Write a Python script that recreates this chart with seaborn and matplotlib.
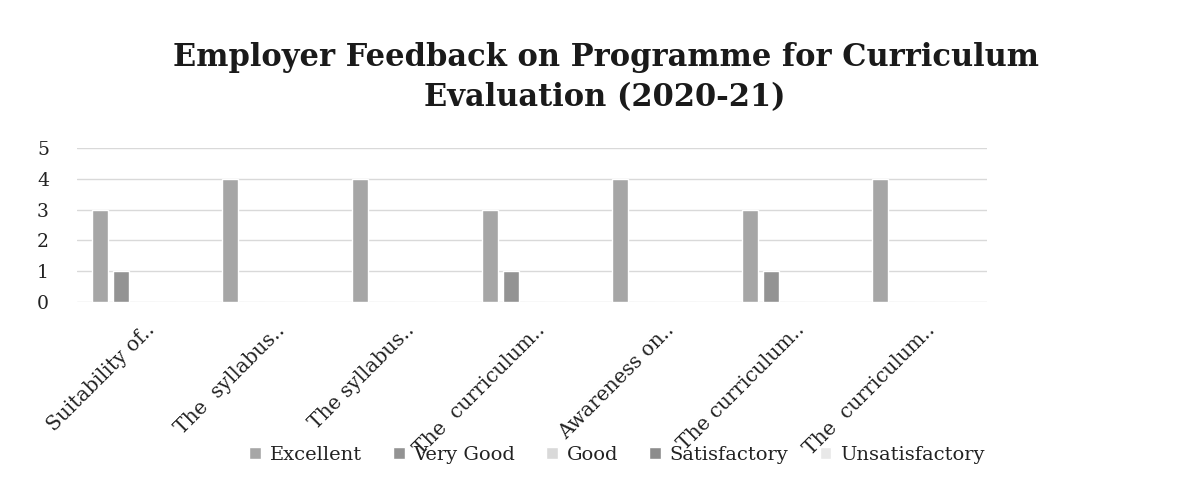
import matplotlib
matplotlib.use("Agg")
import matplotlib.pyplot as plt
from matplotlib.transforms import ScaledTranslation
import seaborn as sns
import pandas as pd

categories = ["Suitability of..", "The  syllabus..", "The syllabus..", "The  curriculum..",
              "Awareness on..", "The curriculum..", "The  curriculum.."]
ratings = ["Excellent", "Very Good", "Good", "Satisfactory", "Unsatisfactory"]
excellent = [3, 4, 4, 3, 4, 3, 4]
very_good = [1, 0, 0, 1, 0, 1, 0]
good = [0, 0, 0, 0, 0, 0, 0]
satisfactory = [0, 0, 0, 0, 0, 0, 0]
unsatisfactory = [0, 0, 0, 0, 0, 0, 0]
yticks = [0, 1, 2, 3, 4, 5]
title_lines = ["Employer Feedback on Programme for Curriculum", "Evaluation (2020-21)"]

series = [excellent, very_good, good, satisfactory, unsatisfactory]
rows = []
for r, vals in zip(ratings, series):
    for i, v in enumerate(vals):
        rows.append({"Pos": i, "Rating": r, "Score": v})
df = pd.DataFrame(rows)

palette = {"Excellent": "#a6a6a6", "Very Good": "#939393", "Good": "#d9d9d9",
           "Satisfactory": "#8c8c8c", "Unsatisfactory": "#e8e8e8"}

sns.set_theme(style="white")
plt.rcParams['font.family'] = ['DejaVu Serif']

fig = plt.figure(figsize=(11.98, 4.94), dpi=100)
ax = fig.add_axes([0.064, 0.389, 0.7595, 0.311])
sns.barplot(data=df, x="Pos", y="Score", hue="Rating", hue_order=ratings,
            order=list(range(len(categories))), palette=palette, width=0.8, gap=0.23,
            ax=ax, errorbar=None, saturation=1)

ax.set_ylim(0, 5)
ax.set_yticks(yticks)
ax.set_yticklabels([str(t) for t in yticks], fontsize=13.5, color="#222222")
ax.tick_params(axis="y", length=0, pad=20)
ax.tick_params(axis="x", length=0, pad=21)
ax.set_xticks(list(range(len(categories))))
ax.set_xticklabels(categories)
ax.set_xlabel("")
ax.set_ylabel("")
ax.yaxis.grid(True, color="#d9d9d9", linewidth=1)
ax.set_axisbelow(True)
for s in ax.spines.values():
    s.set_visible(False)
offset = ScaledTranslation(0.14, 0, fig.dpi_scale_trans)
for lab in ax.get_xticklabels():
    lab.set_rotation(45)
    lab.set_ha("right")
    lab.set_va("baseline")
    lab.set_rotation_mode("anchor")
    lab.set_fontsize(14.5)
    lab.set_color("#222222")
    lab.set_transform(lab.get_transform() + offset)

handles, labels = ax.get_legend_handles_labels()
ax.get_legend().remove()
fig.legend(handles, labels, loc="center", bbox_to_anchor=(0.515, 0.079), ncol=5,
           frameon=False, fontsize=14, handlelength=0.6, handleheight=0.6,
           handletextpad=0.45, columnspacing=1.6, labelcolor="#222222")

fig.text(0.506, 0.866, title_lines[0], ha="center", va="baseline", fontsize=22,
         fontweight="bold", color="#1a1a1a")
fig.text(0.505, 0.785, title_lines[1], ha="center", va="baseline", fontsize=22,
         fontweight="bold", color="#1a1a1a")

fig.savefig("out.png", dpi=100, facecolor="white")
